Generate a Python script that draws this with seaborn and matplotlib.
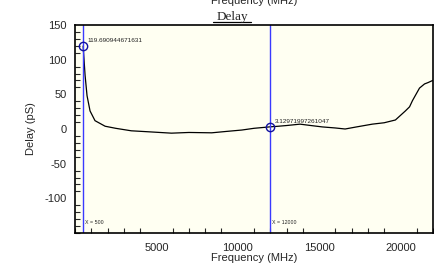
import matplotlib

matplotlib.use("Agg")
import matplotlib.pyplot as plt
import pandas as pd
import seaborn as sns
from matplotlib.ticker import MultipleLocator

# Delay trace (MHz -> pS)
freq_mhz = [500, 617, 740, 925, 1230, 1850, 2500, 3460, 4500, 5930, 7000,
            8400, 9300, 10250, 11000, 12000, 12500, 13000, 13830, 14500,
            15200, 15990, 16600, 17300, 18270, 19000, 19690, 20300, 20560,
            20740, 21170, 21480, 21700, 21980, 22000]
delay_ps = [119.69, 78, 48, 26, 12, 4, 1, -2.6, -4, -6, -5,
            -5.5, -3.5, -1.5, 1, 3.13, 4, 5, 7, 5,
            3, 1.5, 0, 3, 7, 9, 13, 26, 32,
            41, 59, 65, 67, 70, 70]

# Markers
marker_x = [500, 12000]
marker_y = [119.690944671631, 3.12971997261047]
marker_labels = ["119.690944671631", "3.12971997261047"]
cursor_labels = ["X = 500", "X = 12000"]

df = pd.DataFrame({"freq": freq_mhz, "delay": delay_ps})

sns.set_style("white")
plt.rcParams["font.family"] = ["Liberation Sans", "DejaVu Sans"]
plt.rcParams["axes.unicode_minus"] = False

fig = plt.figure(figsize=(4.35, 2.72), dpi=100)
ax = fig.add_axes([75 / 435, 39 / 272, 358 / 435, 208 / 272])
ax.set_facecolor("#fffff2")

sns.lineplot(data=df, x="freq", y="delay", color="black", linewidth=0.9, ax=ax)

for mx, my, lab, cur in zip(marker_x, marker_y, marker_labels, cursor_labels):
    ax.axvline(mx, color="#3a3aff", linewidth=1.0)
    ax.plot(mx, my, marker="o", markersize=6, markerfacecolor="none",
            markeredgecolor="#1010a0", markeredgewidth=1.0)
    ax.annotate(lab, (mx, my), xytext=(3, 2), textcoords="offset points",
                fontsize=4.6, color="#222222", va="bottom", ha="left")
    ax.text(mx + 100, -135, cur, fontsize=3.8, color="#222222",
            va="center", ha="left")

ax.set_xlim(0, 22000)
ax.set_ylim(-150, 150)
ax.xaxis.set_major_locator(MultipleLocator(5000))
ax.xaxis.set_minor_locator(MultipleLocator(1000))
ax.yaxis.set_major_locator(MultipleLocator(50))
ax.yaxis.set_minor_locator(MultipleLocator(10))
ax.set_xticks([5000, 10000, 15000, 20000])
ax.set_yticks([-100, -50, 0, 50, 100, 150])

ax.tick_params(axis="x", which="major", direction="inout", length=9, width=1.0,
               labelsize=8, pad=3)
ax.tick_params(axis="y", which="major", direction="inout", length=8, width=1.0,
               labelsize=8, pad=2)
ax.tick_params(which="minor", direction="in", length=3.5, width=0.8)
ax.tick_params(axis="x", which="minor", bottom=True)
ax.tick_params(axis="y", which="minor", left=True)

for spine in ax.spines.values():
    spine.set_color("black")
    spine.set_linewidth(1.2)

ax.set_xlabel("Frequency (MHz)", fontsize=8, labelpad=0)
ax.set_ylabel("Delay (pS)", fontsize=8, labelpad=6)

# Underlined serif title, slightly left of the axes centre
title_x = 0.439
ax.text(title_x, 1.026, "Delay", transform=ax.transAxes, fontsize=9.5,
        family=["Liberation Serif", "DejaVu Serif"], ha="center", va="baseline")
ax.plot([title_x - 0.054, title_x + 0.054], [1.014, 1.014], transform=ax.transAxes,
        color="black", linewidth=0.9, clip_on=False)

# the top axis label, cut off by the image edge as in the original
fig.text(0.584, 0.985, "Frequency (MHz)", fontsize=8, ha="center", va="baseline")

fig.savefig("out.png", dpi=100)
